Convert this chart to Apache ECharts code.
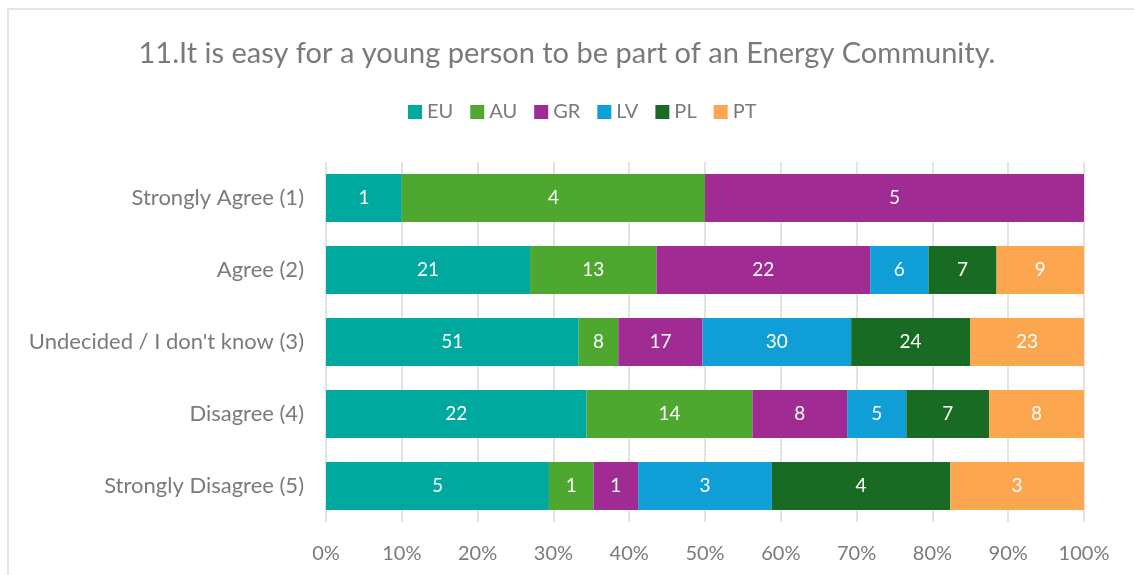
<!DOCTYPE html>
<html>
<head>
<meta charset="utf-8">
<script src="https://cdn.jsdelivr.net/npm/echarts@6/dist/echarts.min.js"></script>
<style>
  html, body { margin: 0; padding: 0; background: #fff; overflow: hidden; }
  #frame { position: absolute; left: 7px; top: 8px; width: 1140px; height: 600px; border-top: 2px solid #e3e3e3; border-left: 2px solid #e3e3e3; box-sizing: border-box; }
  #chart { position: absolute; left: 0; top: 0; width: 1134px; height: 575px; }
</style>
</head>
<body>
<div id="frame"></div>
<div id="chart"></div>
<script>
  // answer categories, top to bottom
  var categories = ['Strongly Agree (1)', 'Agree (2)', 'Undecided / I don\'t know (3)', 'Disagree (4)', 'Strongly Disagree (5)'];
  var countries = ['EU', 'AU', 'GR', 'LV', 'PL', 'PT'];
  var colors = ['#00A99D', '#4EA72E', '#A02B93', '#0F9ED5', '#196B24', '#FCA64F'];

  // response counts per country, one entry per category
  var eu = [1, 21, 51, 22, 5];
  var au = [4, 13, 8, 14, 1];
  var gr = [5, 22, 17, 8, 1];
  var lv = [0, 6, 30, 5, 3];
  var pl = [0, 7, 24, 7, 4];
  var pt = [0, 9, 23, 8, 3];

  var counts = [eu, au, gr, lv, pl, pt];
  var totals = categories.map(function (c, i) {
    return counts.reduce(function (s, arr) { return s + arr[i]; }, 0);
  });

  var fontFamily = 'Lato, "Open Sans", sans-serif';

  var series = countries.map(function (name, k) {
    return {
      name: name,
      type: 'bar',
      stack: 'total',
      barCategoryGap: '33%',
      itemStyle: { color: colors[k] },
      label: {
        show: true,
        position: 'inside',
        color: '#fff',
        fontSize: 19,
        fontFamily: fontFamily,
        formatter: function (p) {
          var v = counts[k][p.dataIndex];
          return v ? String(v) : '';
        }
      },
      data: counts[k].map(function (v, i) { return v / totals[i] * 100; })
    };
  });

  var chart = echarts.init(document.getElementById('chart'));
  chart.setOption({
    animation: false,
    title: {
      text: '11.It is easy for a young person to be part of an Energy Community.',
      left: 'center',
      top: 34,
      textStyle: { color: '#7a7a7a', fontSize: 29, fontWeight: 'normal', fontFamily: fontFamily }
    },
    legend: {
      data: countries,
      top: 97,
      left: 403,
      itemWidth: 14,
      itemHeight: 14,
      itemGap: 17,
      icon: 'rect',
      textStyle: { color: '#7a7a7a', fontSize: 20, fontFamily: fontFamily }
    },
    grid: { left: 326, right: 50, top: 162, bottom: 53, containLabel: false },
    xAxis: {
      type: 'value',
      min: 0,
      max: 100,
      interval: 10,
      axisLine: { show: false },
      axisTick: { show: false },
      splitLine: { lineStyle: { color: '#d9d9d9', width: 1.5 } },
      axisLabel: { formatter: '{value}%', color: '#7a7a7a', fontSize: 20, fontFamily: fontFamily, margin: 22 }
    },
    yAxis: {
      type: 'category',
      inverse: true,
      data: categories,
      axisLine: { show: false },
      axisTick: { show: false },
      axisLabel: { color: '#7a7a7a', fontSize: 22, fontFamily: fontFamily, margin: 22 }
    },
    series: series
  });
</script>
</body>
</html>
